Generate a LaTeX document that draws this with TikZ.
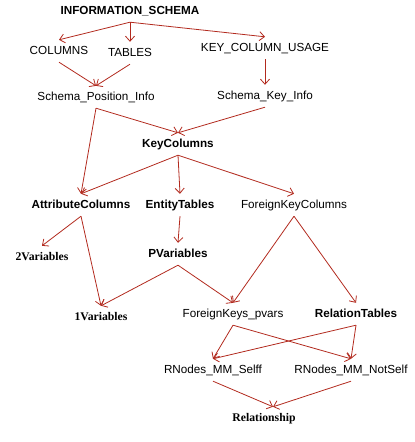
\documentclass[tikz,border=0pt]{standalone}
\usepackage{fontspec}
\setmainfont{Liberation Serif}
\setsansfont{Liberation Sans}
\usetikzlibrary{arrows.meta}
\definecolor{edgered}{RGB}{178,42,30}
\newcommand{\lblfont}{\fontsize{11.7}{13}\selectfont}

\begin{document}
\begin{tikzpicture}[x=1pt, y=-1pt,
  every node/.style={font=\sffamily\lblfont, inner sep=0pt, text height=8.5pt, text depth=2.5pt, minimum height=22pt},
  bold/.style={font=\sffamily\bfseries\lblfont},
  serifbold/.style={font=\rmfamily\bfseries\lblfont},
  edge/.style={draw=edgered, line width=0.8pt, -{Straight Barb[length=5pt,width=9pt]}}]
  \useasboundingbox (0,0) rectangle (415,442);

  \node[bold] (info) at (130,11) {INFORMATION\_SCHEMA};
  \node (columns) at (59,51) {COLUMNS};
  \node (tables) at (130,53) {TABLES};
  \node (kcu) at (265,48) {KEY\_COLUMN\_USAGE};
  \node (spi) at (96,97) {Schema\_Position\_Info};
  \node (ski) at (265,96) {Schema\_Key\_Info};
  \node[bold] (keycols) at (178,144) {KeyColumns};
  \node[bold] (attrcols) at (81,205) {AttributeColumns};
  \node[bold] (enttables) at (180,205) {EntityTables};
  \node (fkcols) at (294,205) {ForeignKeyColumns};
  \node[serifbold] (twovars) at (42,257) {2Variables};
  \node[bold] (pvars) at (178,254) {PVariables};
  \node[serifbold] (onevars) at (101,317) {1Variables};
  \node (fkpvars) at (233,314) {ForeignKeys\_pvars};
  \node[bold] (reltables) at (356,314) {RelationTables};
  \node (rnself) at (213,370) {RNodes\_MM\_Selff};
  \node (rnnotself) at (351,370) {RNodes\_MM\_NotSelf};
  \node[serifbold] (relship) at (264,418) {Relationship};

  \draw[edge] (info.south) -- (columns.north);
  \draw[edge] (info.south) -- (tables.north);
  \draw[edge] (info.south) -- (kcu.north);
  \draw[edge] (columns.south) -- (spi.north);
  \draw[edge] (tables.south) -- (spi.north);
  \draw[edge] (kcu.south) -- (ski.north);
  \draw[edge] (spi.south) -- (keycols.north);
  \draw[edge] (ski.south) -- (keycols.north);
  \draw[edge] (spi.south) -- (attrcols.north);
  \draw[edge] (keycols.south) -- (attrcols.north);
  \draw[edge] (keycols.south) -- (enttables.north);
  \draw[edge] (keycols.south) -- (fkcols.north);
  \draw[edge] (attrcols.south) -- (twovars.north);
  \draw[edge] (attrcols.south) -- (onevars.north);
  \draw[edge] (enttables.south) -- (pvars.north);
  \draw[edge] (pvars.south) -- (onevars.north);
  \draw[edge] (pvars.south) -- (fkpvars.north);
  \draw[edge] (fkcols.south) -- (fkpvars.north);
  \draw[edge] (fkcols.south) -- (reltables.north);
  \draw[edge] (fkpvars.south) -- (rnself.north);
  \draw[edge] (fkpvars.south) -- (rnnotself.north);
  \draw[edge] (reltables.south) -- (rnself.north);
  \draw[edge] (reltables.south) -- (rnnotself.north);
  \draw[edge] (rnself.south) -- ([xshift=9pt]relship.north);
  \draw[edge] (rnnotself.south) -- ([xshift=9pt]relship.north);
\end{tikzpicture}
\end{document}
